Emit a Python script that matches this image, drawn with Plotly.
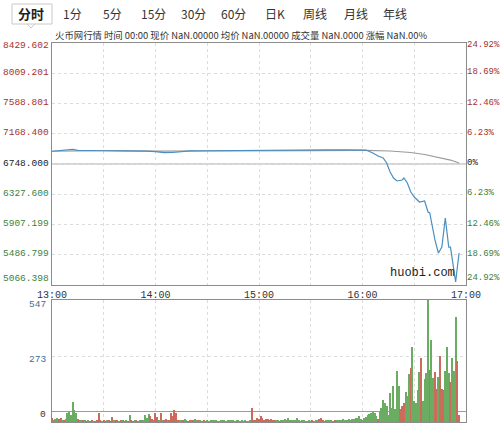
import plotly.graph_objects as go
import pandas as pd

DATE = "2013-11-19 "

# ---- price line (time, price) ----
price_times = ["13:00", "13:05", "13:08", "13:12", "13:15", "13:20", "13:30", "13:40", "13:50",
               "13:55", "14:00", "14:05", "14:10", "14:15", "14:20", "14:30", "14:40", "14:50",
               "15:00", "15:10", "15:20", "15:30", "15:40", "15:50", "15:58", "16:02",
               "16:06", "16:09", "16:12", "16:14", "16:16", "16:18", "16:20", "16:23", "16:24",
               "16:26", "16:28", "16:30", "16:33", "16:36", "16:38", "16:39", "16:40", "16:42",
               "16:44", "16:46", "16:48", "16:49", "16:50", "16:51", "16:52", "16:53", "16:54",
               "16:55", "16:56"]
price_vals = [6925, 6935, 6945, 6950, 6938, 6933, 6932, 6930, 6932,
              6928, 6920, 6905, 6908, 6915, 6930, 6932, 6935, 6930,
              6935, 6940, 6945, 6942, 6945, 6943, 6945, 6942,
              6901, 6859, 6831, 6762, 6637, 6553, 6512, 6526, 6553,
              6484, 6359, 6289, 6220, 6234, 6081, 6067, 5942, 5692,
              5511, 5594, 5997, 5789, 5594, 5594, 5420, 5300, 5108,
              5316, 5511]

# ---- average price line ----
avg_times = ["13:00", "13:30", "14:00", "14:30", "15:00", "15:30", "16:00", "16:02",
             "16:16", "16:28", "16:36", "16:45", "16:51", "16:56"]
avg_vals = [6925, 6933, 6928, 6927, 6930, 6934, 6937, 6938,
            6929, 6908, 6880, 6838, 6803, 6762]

# ---- volume per minute from 13:00 (bar heights) and up/down flag ----
vol_vals = [22, 9, 16, 20, 13, 22, 7, 5, 13, 44,
            49, 33, 98, 60, 44, 16, 9, 11, 7, 5,
            4, 7, 3, 5, 4, 3, 7, 44, 5, 4,
            7, 4, 5, 9, 4, 24, 7, 5, 9, 4,
            5, 8, 4, 7, 3, 34, 5, 4, 7, 5,
            4, 8, 5, 7, 33, 22, 38, 27, 13, 9,
            44, 24, 11, 44, 9, 7, 13, 5, 9, 44,
            27, 59, 44, 11, 7, 9, 5, 13, 7, 4,
            11, 7, 9, 13, 7, 5, 9, 4, 7, 3,
            5, 4, 9, 7, 5, 11, 4, 3, 7, 5,
            8, 4, 9, 11, 7, 5, 4, 9, 5, 3,
            7, 4, 5, 3, 4, 7, 69, 9, 5, 22,
            13, 27, 20, 11, 17, 15, 9, 13, 7, 11,
            5, 7, 4, 9, 5, 13, 8, 22, 7, 9,
            5, 7, 22, 11, 4, 5, 7, 3, 4, 5,
            3, 7, 4, 5, 9, 13, 22, 7, 4, 5,
            7, 9, 5, 4, 7, 5, 9, 11, 8, 13,
            9, 11, 15, 7, 13, 16, 22, 20, 27, 15,
            10, 21, 26, 33, 37, 46, 53, 43, 29, 13,
            53, 70, 107, 95, 78, 33, 140, 70, 175, 62,
            248, 175, 62, 78, 95, 146, 126, 233, 265, 367,
            102, 95, 156, 245, 311, 102, 208, 241, 596, 254,
            400, 215, 242, 163, 218, 324, 163, 156, 251, 366,
            240, 196, 313, 251, 514, 298, 34]
vol_dir = ["r", "g", "g", "g", "r", "r", "g", "r", "g", "g",
           "g", "g", "g", "g", "g", "r", "r", "g", "r", "g",
           "r", "g", "r", "r", "g", "r", "r", "r", "r", "g",
           "r", "r", "g", "r", "r", "r", "g", "r", "r", "g",
           "r", "g", "r", "g", "r", "g", "r", "r", "g", "r",
           "r", "g", "r", "g", "g", "g", "g", "r", "r", "g",
           "r", "r", "g", "r", "g", "r", "r", "g", "r", "r",
           "r", "r", "r", "r", "g", "g", "r", "g", "g", "r",
           "r", "g", "r", "g", "g", "r", "g", "g", "r", "g",
           "g", "g", "g", "g", "g", "g", "g", "g", "g", "g",
           "g", "g", "g", "g", "g", "g", "g", "g", "g", "g",
           "g", "g", "g", "g", "g", "g", "r", "r", "r", "r",
           "r", "r", "r", "r", "r", "r", "r", "r", "r", "r",
           "g", "g", "r", "g", "g", "g", "g", "g", "g", "g",
           "g", "g", "g", "g", "g", "g", "g", "g", "g", "g",
           "g", "r", "g", "g", "g", "r", "r", "r", "g", "g",
           "g", "g", "g", "g", "r", "g", "g", "g", "g", "g",
           "g", "g", "g", "g", "g", "g", "g", "g", "g", "g",
           "g", "g", "g", "g", "g", "g", "g", "g", "g", "r",
           "g", "g", "g", "g", "g", "g", "g", "g", "g", "g",
           "g", "g", "r", "r", "r", "g", "g", "g", "r", "g",
           "g", "g", "g", "g", "r", "g", "g", "g", "g", "r",
           "g", "g", "r", "r", "g", "r", "r", "r", "g", "g",
           "g", "r", "g", "g", "g", "r", "r"]

# ---- axis labels ----
price_ticks = [8429.602, 8009.201, 7588.801, 7168.400, 6748.000, 6327.600, 5907.199, 5486.799, 5066.398]
price_labels = ["8429.602", "8009.201", "7588.801", "7168.400", "6748.000", "6327.600", "5907.199", "5486.799", "5066.398"]
pct_labels = ["24.92%", "18.69%", "12.46%", "6.23%", "0%", "6.23%", "12.46%", "18.69%", "24.92%"]
base_price = 6748.000
vol_ticks = [547, 273, 0]
vol_labels = ["547", "273", "0"]
time_ticks = ["13:00", "13:30", "14:00", "14:30", "15:00", "15:30", "16:00", "16:30", "17:00"]
time_labels = ["13:00", "", "14:00", "", "15:00", "", "16:00", "", "17:00"]
tabs = ["分时", "1分", "5分", "15分", "30分", "60分", "日K", "周线", "月线", "年线"]
info_text = "火币网行情 时间 00:00 现价 NaN.00000 均价 NaN.00000 成交量 NaN.0000 涨幅 NaN.00%"

RED = "#a8322d"
GREEN = "#3d7f3d"
BAR_RED = "#cc6a5c"
BAR_GREEN = "#6aad62"
MONO = "Liberation Mono"
CJK = "Noto Sans CJK SC"

# layout geometry (pixels)
W, H = 500, 430
L, R, T, B = 52, 34, 43, 8
PH = H - T - B
PW = W - L - R


def px(x, y):
    return (x - L) / PW, (H - B - y) / PH


fig = go.Figure()

fig.add_trace(go.Scatter(x=[DATE + t for t in avg_times], y=avg_vals, mode="lines",
                         line=dict(color="#9a9a9a", width=1.2), xaxis="x", yaxis="y",
                         showlegend=False, hoverinfo="skip"))
fig.add_trace(go.Scatter(x=[DATE + t for t in price_times], y=price_vals, mode="lines",
                         line=dict(color="#4a8fbf", width=1.2), xaxis="x", yaxis="y",
                         showlegend=False))

vol_times = pd.date_range(DATE + "13:00", periods=len(vol_vals), freq="min")
fig.add_trace(go.Bar(x=vol_times, y=vol_vals, base=-49, width=40000,
                     marker=dict(color=[BAR_RED if c == "r" else BAR_GREEN for c in vol_dir],
                                 line=dict(width=0)),
                     xaxis="x2", yaxis="y2", showlegend=False))

xr = [DATE + "13:00", DATE + "17:00"]
grid = dict(showgrid=True, gridcolor="#dcdcdc", griddash="3px,3px", gridwidth=1)
border = dict(showline=True, mirror=True, linecolor="#8c8c8c", linewidth=1)

fig.update_layout(
    width=W, height=H, margin=dict(l=L, r=R, t=T, b=B),
    paper_bgcolor="white", plot_bgcolor="white", bargap=0,
    xaxis=dict(type="date", range=xr, domain=[0, 1], anchor="y",
               tickvals=[DATE + t for t in time_ticks], ticktext=time_labels,
               tickfont=dict(family=MONO, size=10, color="#333"), ticks="",
               zeroline=False, **grid, **border),
    yaxis=dict(domain=[px(0, 285)[1], 1], range=[price_ticks[-1], price_ticks[0]],
               tickvals=price_ticks, showticklabels=False, zeroline=False,
               **grid, **border),
    xaxis2=dict(type="date", range=xr, domain=[0, 1], anchor="y2", matches="x",
                tickvals=[DATE + t for t in time_ticks], showticklabels=False,
                ticks="", zeroline=False, **grid, **border),
    yaxis2=dict(domain=[0, px(0, 300)[1]], range=[-49, 547], tickvals=[273],
                showticklabels=False, zeroline=True, zerolinecolor="#9a9a9a",
                zerolinewidth=1, **grid, **border),
)

# base price line
fig.add_shape(type="line", xref="x domain", yref="y", x0=0, x1=1, y0=base_price, y1=base_price,
              line=dict(color="#d4d4d4", width=2), layer="below")

ann = []
n = len(price_ticks)
for i, (v, lab, pl) in enumerate(zip(price_ticks, price_labels, pct_labels)):
    col = RED if v > base_price else (GREEN if v < base_price else "#222")
    ys = -2 if i == 0 else (7 if i == n - 1 else 1)
    ann.append(dict(x=0, xref="paper", xanchor="right", xshift=-1, y=v, yref="y", yshift=ys,
                    text=lab, showarrow=False, font=dict(family=MONO, size=9.5, color=col)))
    ann.append(dict(x=1, xref="paper", xanchor="left", xshift=-1, y=v, yref="y", yshift=ys,
                    text=pl, showarrow=False, font=dict(family=MONO, size=9, color=col)))
for v, lab in zip(vol_ticks, vol_labels):
    ann.append(dict(x=0, xref="paper", xanchor="right", xshift=-4, y=v, yref="y2",
                    yshift=-4 if v == 547 else -3,
                    text=lab, showarrow=False,
                    font=dict(family=MONO, size=9.5, color="#3f6f98" if v else "#333")))

tab_x = [31, 72, 112, 153, 193, 233, 275, 315, 356, 395]
for i, (t, xx) in enumerate(zip(tabs, tab_x)):
    p = px(xx, 14)
    ann.append(dict(x=p[0], y=p[1], xref="paper", yref="paper", text=("<b>%s</b>" % t) if i == 0 else t,
                    showarrow=False, xanchor="center", yanchor="middle",
                    font=dict(family=CJK, size=13 if i == 0 else 12, color="#222" if i == 0 else "#333")))
p = px(53, 35)
ann.append(dict(x=p[0], y=p[1], xref="paper", yref="paper", text=info_text, showarrow=False,
                xanchor="left", yanchor="middle", font=dict(family=CJK, size=9.4, color="#333")))
p = px(457, 273)
ann.append(dict(x=p[0], y=p[1], xref="paper", yref="paper", text="huobi.com", showarrow=False,
                xanchor="right", yanchor="middle", font=dict(family=MONO, size=12, color="#222")))
fig.update_layout(annotations=ann)

# tab box and caret
a, b = px(12, 4), px(52, 24)
fig.add_shape(type="rect", xref="paper", yref="paper", x0=a[0], y0=a[1], x1=b[0], y1=b[1],
              line=dict(color="#c8c8c8", width=1), fillcolor="rgba(0,0,0,0)")
c1, c2, c3 = px(27, 24), px(31, 28), px(35, 24)
fig.add_shape(type="path", xref="paper", yref="paper",
              path="M %f,%f L %f,%f L %f,%f" % (c1[0], c1[1], c2[0], c2[1], c3[0], c3[1]),
              line=dict(color="#c8c8c8", width=1))

fig.write_html("out.html", config={"displayModeBar": False},
               post_script="document.body.style.margin='0';")
